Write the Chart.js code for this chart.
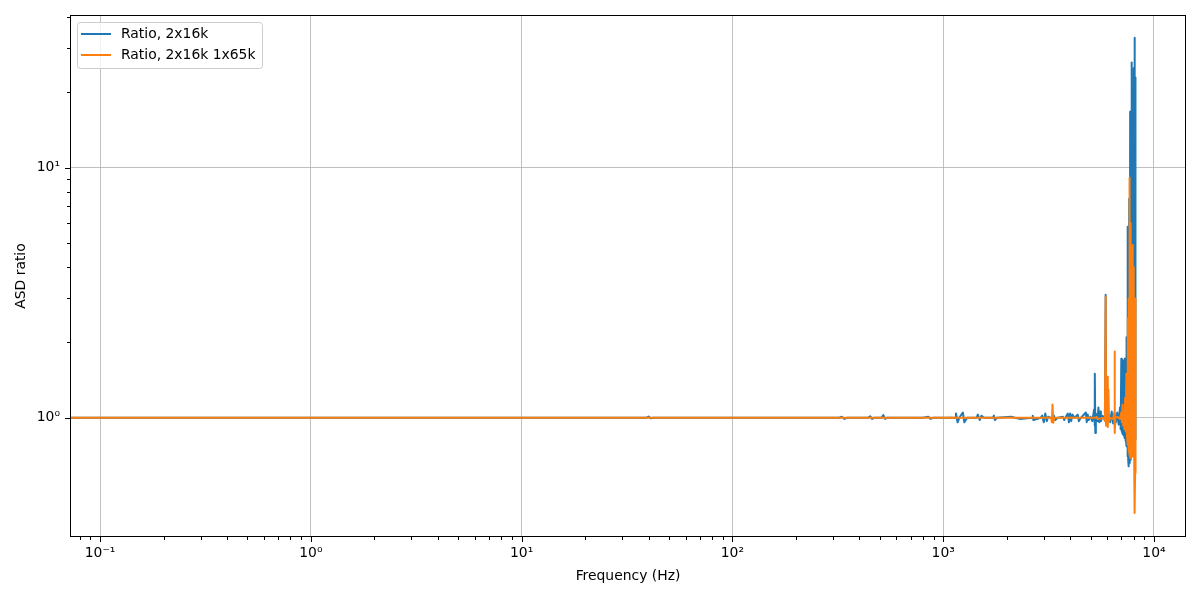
<!DOCTYPE html>
<html>
<head>
<meta charset="utf-8">
<script src="https://cdn.jsdelivr.net/npm/chart.js@4.4.1/dist/chart.umd.min.js"></script>
<style>
  html, body { margin: 0; padding: 0; background: #ffffff; }
  canvas { display: block; }
</style>
</head>
<body>
<canvas id="myChart" width="1200" height="600"></canvas>
<script>
// frequency (Hz) and ratio values
var freqBlue = [0.0625, 1, 10, 39, 40, 41, 42, 100, 320, 330, 340, 350, 440, 450, 460, 470, 510, 520, 530, 540,
  800, 850, 870, 900, 1140, 1150, 1170, 1200, 1240, 1260, 1300, 1440, 1460, 1490, 1520, 1560, 1720, 1740, 1760, 1800,
  2100, 2300, 2650, 2660, 2680, 2900, 2950, 3000, 3050, 3100, 3150, 3300, 3350, 3400, 3500, 3700, 3750, 3900, 3950,
  4000, 4050, 4100, 4200, 4350, 4400, 4500, 4750, 4800, 4850, 4900, 5000, 5100, 5200, 5230, 5250, 5270, 5300, 5400,
  5450, 5500, 5550, 5600, 5700, 5850, 5900, 5930, 5960, 6000, 6100, 6200, 6300, 6400, 6500, 6600, 6700, 6800, 6900,
  6950, 7000, 7025, 7050, 7075, 7100, 7125, 7150, 7175, 7200, 7225, 7250, 7275, 7300, 7325, 7350, 7375, 7400, 7425,
  7450, 7475, 7500, 7515, 7530, 7545, 7560, 7585, 7610, 7630, 7650, 7670, 7690, 7710, 7730, 7755, 7780, 7800, 7820,
  7840, 7860, 7880, 7900, 7925, 7950, 7975, 8000, 8018, 8036, 8058, 8080, 8100, 8120, 8135, 8150, 8170, 8192];
var ratioBlue = [1.0, 1.0, 1.0, 1.0, 1.012, 0.995, 1.0, 1.0, 1.0, 1.01, 0.99, 1.0, 1.0, 1.015, 0.99, 1.0, 1.0, 1.025, 0.99, 1.0,
  1.0, 1.01, 0.99, 1.0, 1.0, 1.04, 0.96, 1.01, 1.05, 0.96, 1.0, 1.0, 1.03, 0.98, 1.02, 1.0, 1.0, 1.02, 0.98, 1.0,
  1.01, 0.99, 1.0, 1.02, 0.98, 1.0, 1.02, 0.96, 1.04, 0.97, 1.01, 0.99, 1.02, 0.98, 1.0, 1.01, 0.98, 1.04, 0.96,
  1.04, 0.97, 1.03, 1.0, 1.03, 0.97, 1.0, 1.05, 0.96, 1.03, 0.98, 1.01, 0.97, 1.08, 0.93, 1.50, 0.87, 1.04, 0.97,
  1.10, 0.96, 1.06, 0.97, 1.02, 0.98, 3.1, 0.95, 1.04, 0.97, 1.03, 0.96, 1.06, 0.95, 1.04, 0.96, 1.05, 0.94, 1.10,
  0.90, 1.72, 0.88, 1.65, 0.87, 1.70, 0.86, 1.60, 0.85, 1.45, 0.86, 1.72, 0.83, 1.72, 0.81, 1.65, 0.80, 2.1, 0.77,
  1.9, 0.75, 2.6, 0.70, 5.8, 0.68, 4.2, 0.66, 0.64, 7.5, 0.66, 3.5, 0.68, 16.7, 0.68, 0.70, 12, 0.71, 9.0,
  0.72, 26.3, 0.73, 14, 0.75, 18, 0.76, 10, 0.78, 25, 0.79, 33, 0.80, 20, 0.82, 22.9, 0.85, 12, 0.88, 11];

var freqOrange = [0.0625, 1, 100, 1000, 1080, 1085, 1090, 2900, 3250, 3280, 3300, 3330, 3360, 3400, 5300, 5350, 5400,
  5800, 5850, 5900, 5930, 5970, 6000, 6040, 6080, 6120, 6200, 6400, 6480, 6500, 6530, 6560, 6700, 6900, 7000, 7050,
  7100, 7150, 7200, 7250, 7300, 7350, 7400, 7450, 7500, 7525, 7550, 7575, 7600, 7620, 7640, 7660, 7680, 7700, 7720,
  7740, 7760, 7780, 7800, 7820, 7840, 7860, 7880, 7900, 7925, 7950, 7975, 8000, 8025, 8050, 8065, 8080, 8100, 8125,
  8140, 8160, 8175, 8192];
var ratioOrange = [1.0, 1.0, 1.0, 1.0, 1.0, 1.005, 1.0, 1.0, 1.0, 0.96, 1.13, 0.955, 1.0, 1.0, 1.0, 1.01, 0.99,
  1.0, 0.97, 3.05, 0.93, 1.02, 1.46, 0.92, 1.3, 0.97, 1.0, 0.99, 1.05, 1.84, 0.87, 1.0, 1.01, 0.99, 1.05, 0.96,
  1.13, 0.93, 1.05, 0.90, 1.2, 0.88, 1.5, 0.84, 2.5, 0.78, 2.2, 0.74, 3.0, 0.73, 0.72, 9.1, 0.71, 0.70, 6.0,
  0.70, 5.0, 0.69, 3.8, 0.70, 4.5, 0.72, 4.0, 0.74, 4.9, 0.70, 3.5, 0.70, 4.0, 0.75, 2.8, 0.78, 3.0, 0.417,
  0.6, 3.0, 0.8, 1.0];

var xMajor = [0.1, 1, 10, 100, 1000, 10000];
var xMajorLabels = ['10\u207B\u00B9', '10\u2070', '10\u00B9', '10\u00B2', '10\u00B3', '10\u2074'];
var yMajor = [1, 10];
var yMajorLabels = ['10\u2070', '10\u00B9'];

var seriesLabels = ['Ratio, 2x16k', 'Ratio, 2x16k 1x65k'];
var seriesColors = ['#1f77b4', '#ff7f0e'];

var xMin = 0.072, xMax = 14190;
var yMin = 0.334, yMax = 40.7;

function toPoints(xs, ys) {
  return xs.map(function (x, i) { return { x: x, y: ys[i] }; });
}

function logTicks(majors, lo, hi) {
  var out = [];
  [0.01].concat(majors).forEach(function (m) {
    for (var k = 1; k < 10; k++) {
      var v = +(m * k).toPrecision(6);
      if (v >= lo && v <= hi) out.push(v);
    }
  });
  return out;
}

function isMajor(v, majors) {
  return majors.some(function (m) { return Math.abs(v / m - 1) < 1e-6; });
}

function majorLabel(v, majors, labels) {
  for (var i = 0; i < majors.length; i++) {
    if (Math.abs(v / majors[i] - 1) < 1e-6) return labels[i];
  }
  return '';
}

var FONT = { family: "'DejaVu Sans', sans-serif", size: 13.9 };

// frame, tick marks and legend, drawn like matplotlib
var framePlugin = {
  id: 'frame',
  afterDatasetsDraw: function (chart) {
    var ctx = chart.ctx, a = chart.chartArea;
    var xs = chart.scales.x, ys = chart.scales.y;
    ctx.save();
    ctx.strokeStyle = '#000000';
    ctx.lineWidth = 1;
    xs.ticks.forEach(function (t) {
      var px = Math.round(xs.getPixelForValue(t.value)) + 0.5;
      var len = isMajor(t.value, xMajor) ? 5 : 3;
      ctx.beginPath(); ctx.moveTo(px, a.bottom); ctx.lineTo(px, a.bottom + len); ctx.stroke();
    });
    ys.ticks.forEach(function (t) {
      var py = Math.round(ys.getPixelForValue(t.value)) + 0.5;
      var len = isMajor(t.value, yMajor) ? 5 : 3;
      ctx.beginPath(); ctx.moveTo(a.left, py); ctx.lineTo(a.left - len, py); ctx.stroke();
    });
    ctx.strokeRect(Math.round(a.left) + 0.5, Math.round(a.top) + 0.5,
      Math.round(a.right - a.left) - 1, Math.round(a.bottom - a.top) - 1);

    // legend box
    var bx = 77.5, by = 22.5, bw = 185, bh = 46, r = 3;
    ctx.beginPath();
    ctx.moveTo(bx + r, by);
    ctx.arcTo(bx + bw, by, bx + bw, by + bh, r);
    ctx.arcTo(bx + bw, by + bh, bx, by + bh, r);
    ctx.arcTo(bx, by + bh, bx, by, r);
    ctx.arcTo(bx, by, bx + bw, by, r);
    ctx.closePath();
    ctx.fillStyle = 'rgba(255,255,255,0.8)';
    ctx.fill();
    ctx.strokeStyle = '#cccccc';
    ctx.stroke();
    ctx.font = FONT.size + 'px ' + FONT.family;
    ctx.textBaseline = 'middle';
    ctx.textAlign = 'left';
    chart.data.datasets.forEach(function (ds, i) {
      var ly = 34 + i * 21;
      ctx.strokeStyle = ds.borderColor;
      ctx.lineWidth = 2;
      ctx.beginPath(); ctx.moveTo(81, ly); ctx.lineTo(111, ly); ctx.stroke();
      ctx.fillStyle = '#000000';
      ctx.fillText(ds.label, 121, ly);
    });
    ctx.restore();
  }
};

var ctx = document.getElementById('myChart').getContext('2d');
var myChart = new Chart(ctx, {
  type: 'line',
  data: {
    datasets: [{
      label: seriesLabels[0],
      data: toPoints(freqBlue, ratioBlue),
      borderColor: seriesColors[0],
      backgroundColor: seriesColors[0],
      borderWidth: 2,
      borderJoinStyle: 'round',
      pointRadius: 0,
      tension: 0,
      fill: false,
      clip: 0,
      order: 2
    }, {
      label: seriesLabels[1],
      data: toPoints(freqOrange, ratioOrange),
      borderColor: seriesColors[1],
      backgroundColor: seriesColors[1],
      borderWidth: 2,
      borderJoinStyle: 'round',
      pointRadius: 0,
      tension: 0,
      fill: false,
      clip: 0,
      order: 1
    }]
  },
  options: {
    responsive: false,
    animation: false,
    devicePixelRatio: 1,
    parsing: false,
    layout: { padding: { top: 15, right: 14, left: 0, bottom: 0 } },
    plugins: {
      legend: { display: false },
      tooltip: { enabled: false }
    },
    scales: {
      x: {
        type: 'logarithmic',
        bounds: 'data',
        min: xMin,
        max: xMax,
        afterBuildTicks: function (scale) {
          scale.ticks = logTicks(xMajor, xMin, xMax).map(function (v) { return { value: v }; });
        },
        afterFit: function (scale) {
          scale.height = 63;
          scale.paddingLeft = 0; scale.paddingRight = 0;
        },
        border: { display: false },
        grid: {
          drawTicks: false,
          lineWidth: 0.8,
          color: function (c) {
            return c.tick && isMajor(c.tick.value, xMajor) ? '#b0b0b0' : 'rgba(0,0,0,0)';
          }
        },
        ticks: {
          autoSkip: false,
          maxRotation: 0,
          padding: 8,
          color: '#000000',
          font: FONT,
          callback: function (v) { return majorLabel(v, xMajor, xMajorLabels); }
        },
        title: {
          display: true,
          text: 'Frequency (Hz)',
          color: '#000000',
          font: FONT,
          padding: { top: 0, bottom: 15 }
        }
      },
      y: {
        type: 'logarithmic',
        bounds: 'data',
        min: yMin,
        max: yMax,
        afterBuildTicks: function (scale) {
          scale.ticks = logTicks(yMajor, yMin, yMax).map(function (v) { return { value: v }; });
        },
        afterFit: function (scale) {
          scale.width = 70;
          scale.paddingTop = 0; scale.paddingBottom = 0;
        },
        border: { display: false },
        grid: {
          drawTicks: false,
          lineWidth: 0.8,
          color: function (c) {
            return c.tick && isMajor(c.tick.value, yMajor) ? '#b0b0b0' : 'rgba(0,0,0,0)';
          }
        },
        ticks: {
          autoSkip: false,
          padding: 10,
          color: '#000000',
          font: FONT,
          callback: function (v) { return majorLabel(v, yMajor, yMajorLabels); }
        },
        title: {
          display: true,
          text: 'ASD ratio',
          color: '#000000',
          font: FONT,
          padding: { top: 13, bottom: 0 }
        }
      }
    }
  },
  plugins: [framePlugin]
});
</script>
</body>
</html>
